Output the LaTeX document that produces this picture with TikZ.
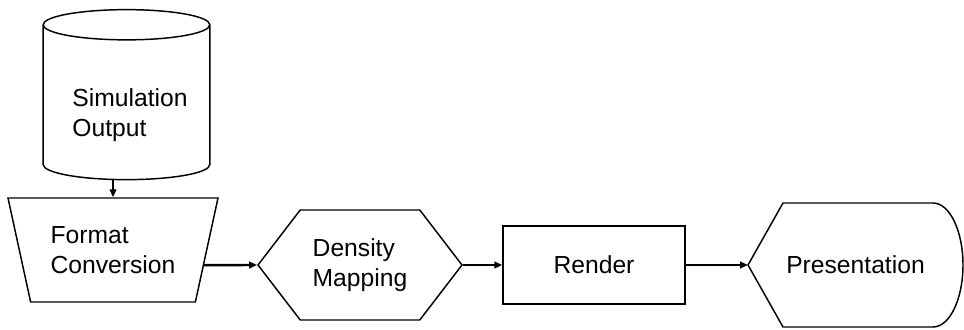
\documentclass[tikz,border=0pt]{standalone}
\usepackage{fontspec}
\setmainfont{Liberation Sans}
\usetikzlibrary{shapes.geometric,shapes.symbols,arrows.meta,calc}

\begin{document}
\begin{tikzpicture}[
            x=0.75pt, y=0.75pt,
            font=\fontsize{18.5}{22}\selectfont,
            dados/.style={shape=cylinder, shape border rotate=90, draw=black, line width=1.1pt, aspect=3.4, minimum width=125pt, minimum height=127.5pt},
            conversao/.style={shape=trapezium, trapezium angle=112.2, draw=black, line width=1.1pt, align=left, minimum width=157.5pt, minimum height=78pt, trapezium stretches body},
            mapeamento/.style={shape=signal, signal to=west and east, signal pointer angle=105, draw=black, line width=1.1pt, align=left, minimum width=153pt, minimum height=82.5pt},
            caixa/.style={shape=rectangle, draw=black, line width=1.1pt, minimum width=136.5pt, minimum height=58.5pt},
            tela/.style={shape=rectangle, outer sep=0pt, minimum width=161.25pt, minimum height=93pt},
            seta/.style={line width=1.8pt, -{Triangle[length=6pt, width=5pt]}},
        ]
        \useasboundingbox (0, 0) rectangle (964, 329);

        \node[dados, label={[align=left, xshift=2.6pt, yshift=-7.5pt]center:Simulation\\Output}] (sim) at (126.5, 224) {};
        \node[conversao] (conv) at (113, 79) {Format\\Conversion};
        \node[mapeamento] (dens) at (360, 64) {Density\\Mapping};
        \node[caixa] (rend) at (594, 64) {Render};
        \node[tela] (pres) at (855.5, 64) {Presentation};
        \draw[line width=1.1pt] (pres.west) -- ([xshift=26.25pt]pres.north west) -- ([xshift=-22.5pt]pres.north east)
            arc[start angle=90, end angle=-90, x radius=22.5pt, y radius=46.5pt] -- ([xshift=26.25pt]pres.south west) -- cycle;

        \draw[seta] (sim.south -| conv.north) -- (conv.north);
        \draw[seta] ($(conv.top right corner)!0.644!(conv.bottom right corner)$) -- (dens.west);
        \draw[seta] (dens.east) -- (rend.west);
        \draw[seta] (rend.east) -- (pres.west);

    \end{tikzpicture}
\end{document}
